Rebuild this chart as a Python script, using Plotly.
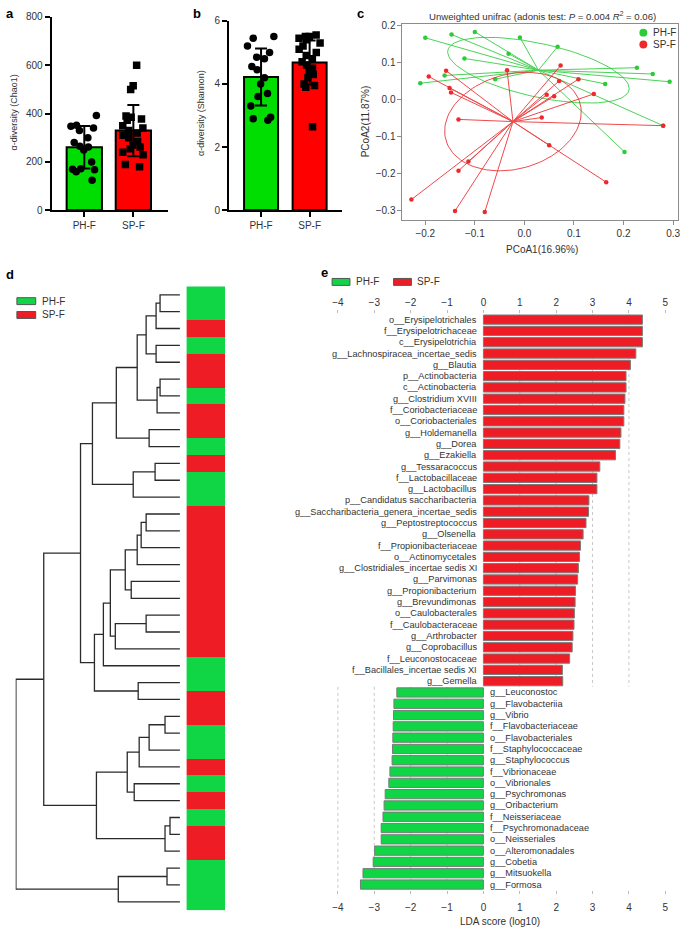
import numpy as np
import plotly.graph_objects as go

W, H = 685, 933
def px(v): return v / W
def py(v): return 1 - v / H

FONT = "Liberation Sans, Arial, Helvetica, sans-serif"
TXT = "#333333"
BAR_GREEN = "#00DD00"
BAR_RED = "#FF0000"
PC_GREEN = "#2DCB3A"
PC_RED = "#EC2A2E"
HM_GREEN = "#10D646"
HM_RED = "#EE1D25"

# ---------------- data ----------------
groups = ["PH-F", "SP-F"]

chao1_mean = [261, 330]
chao1_sd = [88, 106]
chao1_ph = [392, 352, 348, 340, 330, 300, 280, 265, 262, 250, 200, 172, 170, 168, 160, 124]
chao1_sp = [600, 515, 500, 390, 385, 378, 372, 350, 340, 330, 320, 310, 300, 285, 270,
            262, 255, 240, 230, 190, 180]

shannon_mean = [4.22, 4.68]
shannon_sd = [0.9, 0.7]
shannon_ph = [5.5, 5.45, 5.2, 5.0, 4.85, 4.8, 4.55, 4.45, 4.2, 4.0, 3.7, 3.6, 3.3, 2.95, 2.9, 2.85]
shannon_sp = [5.55, 5.5, 5.5, 5.45, 5.4, 5.3, 5.2, 5.1, 5.0, 4.9, 4.8, 4.7, 4.6, 4.5, 4.4,
              4.3, 4.2, 4.0, 3.95, 3.9, 2.65]

pcoa_ph_x = [-0.200, -0.147, -0.100, -0.009, 0.067, -0.032, -0.121, 0.227, 0.259, 0.293,
             0.163, -0.161, -0.210, -0.059, 0.280, 0.202]
pcoa_ph_y = [0.167, 0.176, 0.183, 0.168, 0.143, 0.124, 0.111, 0.086, 0.069, 0.048,
             0.042, 0.065, 0.044, 0.055, -0.071, -0.142]
pcoa_sp_x = [-0.228, -0.140, -0.080, -0.133, -0.113, -0.133, -0.193, -0.158, -0.151, -0.148,
             -0.035, 0.073, 0.070, 0.109, 0.140, 0.045, 0.060, 0.035, 0.280, 0.050, 0.165]
pcoa_sp_y = [-0.271, -0.302, -0.305, -0.193, -0.168, -0.054, 0.062, 0.078, 0.031, 0.019,
             0.079, 0.092, 0.050, 0.055, 0.015, 0.013, 0.009, -0.049, -0.071, -0.124, -0.224]

# dendrogram leaves (top to bottom) and merges: (child_a, child_b, height)
leaf_group = ["PH-F", "PH-F", "SP-F", "PH-F", "SP-F", "SP-F", "PH-F", "SP-F", "SP-F", "PH-F",
              "SP-F", "PH-F", "PH-F", "SP-F", "SP-F", "SP-F", "SP-F", "SP-F", "SP-F", "SP-F",
              "SP-F", "SP-F", "PH-F", "PH-F", "SP-F", "SP-F", "PH-F", "PH-F", "SP-F", "PH-F",
              "SP-F", "PH-F", "SP-F", "SP-F", "PH-F", "PH-F", "PH-F"]
merges = [
    (0, 1, 20), (37, 2, 24), (3, 4, 24), (38, 39, 34), (5, 6, 20), (41, 7, 23),
    (40, 42, 43), (8, 9, 31), (43, 44, 64), (10, 11, 25), (46, 12, 47), (45, 47, 88),
    (13, 14, 34), (49, 15, 39), (50, 16, 43), (17, 18, 49), (51, 52, 55), (19, 20, 34),
    (54, 21, 65), (53, 55, 70), (56, 22, 77), (23, 24, 42), (57, 58, 86), (48, 59, 100),
    (25, 26, 15), (61, 27, 31), (62, 28, 41), (29, 30, 46), (63, 64, 53), (31, 32, 10),
    (66, 33, 15), (65, 67, 84), (60, 68, 137), (34, 35, 13), (70, 36, 62), (69, 71, 165),
]

lda_names = [
    "o__Erysipelotrichales", "f__Erysipelotrichaceae", "c__Erysipelotrichia",
    "g__Lachnospiracea_incertae_sedis", "g__Blautia", "p__Actinobacteria", "c__Actinobacteria",
    "g__Clostridium XVIII", "f__Coriobacteriaceae", "o__Coriobacteriales", "g__Holdemanella",
    "g__Dorea", "g__Ezakiella", "g__Tessaracoccus", "f__Lactobacillaceae", "g__Lactobacillus",
    "p__Candidatus saccharibacteria", "g__Saccharibacteria_genera_incertae_sedis",
    "g__Peptostreptococcus", "g__Olsenella", "f__Propionibacteriaceae", "o__Actinomycetales",
    "g__Clostridiales_incertae sedis XI", "g__Parvimonas", "g__Propionibacterium",
    "g__Brevundimonas", "o__Caulobacterales", "f__Caulobacteraceae", "g__Arthrobacter",
    "g__Coprobacillus", "f__Leuconostocaceae", "f__Bacillales_incertae sedis XI", "g__Gemella",
    "g__Leuconostoc", "g__Flavobacteriia", "g__Vibrio", "f__Flavobacteriaceae",
    "o__Flavobacteriales", "f__Staphylococcaceae", "g__Staphylococcus", "f__Vibrionaceae",
    "o__Vibrionales", "g__Psychromonas", "g__Oribacterium", "f__Neisseriaceae",
    "f__Psychromonadaceae", "o__Neisseriales", "o__Alteromonadales", "g__Cobetia",
    "g__Mitsuokella", "g__Formosa",
]
lda_scores = [
    4.37, 4.37, 4.37, 4.19, 4.04, 3.92, 3.92, 3.89, 3.86, 3.86, 3.78, 3.75, 3.63, 3.20, 3.12,
    3.12, 2.90, 2.89, 2.82, 2.74, 2.67, 2.64, 2.61, 2.59, 2.53, 2.52, 2.50, 2.49, 2.46, 2.44,
    2.37, 2.17, 2.18,
    -2.38, -2.46, -2.47, -2.48, -2.49, -2.50, -2.51, -2.57, -2.60, -2.70, -2.73, -2.76, -2.81,
    -2.81, -2.99, -3.03, -3.31, -3.38,
]
lda_ticks = [-4, -3, -2, -1, 0, 1, 2, 3, 4, 5]

fig = go.Figure()

# ---------------- panels a & b ----------------
def alpha_panel(xa, ya, means, sds, ph, sp, bw):
    fig.add_trace(go.Bar(
        x=groups, y=means, width=bw, xaxis=xa, yaxis=ya, showlegend=False,
        marker=dict(color=[BAR_GREEN, BAR_RED], line=dict(color="black", width=2)),
        error_y=dict(type="data", array=sds, visible=True, color="black", thickness=2, width=6),
    ))
    for g, vals, sym in [("PH-F", ph, "circle"), ("SP-F", sp, "square")]:
        fig.add_trace(go.Box(
            x=[g] * len(vals), y=vals, boxpoints="all", jitter=1, pointpos=0, width=bw * 0.85,
            fillcolor="rgba(0,0,0,0)", line=dict(color="rgba(0,0,0,0)", width=0),
            marker=dict(color="black", size=7.5, symbol=sym), xaxis=xa, yaxis=ya,
            showlegend=False, hoverinfo="skip",
        ))

alpha_panel("x", "y", chao1_mean, chao1_sd, chao1_ph, chao1_sp, 0.72)
alpha_panel("x2", "y2", shannon_mean, shannon_sd, shannon_ph, shannon_sp, 0.70)

# ---------------- panel c ----------------
def ellipse(xs, ys, n=120):
    x = np.array(xs); y = np.array(ys)
    vals, vecs = np.linalg.eigh(np.cov(x, y))
    t = np.linspace(0, 2 * np.pi, n)
    pts = vecs @ (np.sqrt(vals)[:, None] * np.stack([np.cos(t), np.sin(t)]))
    return x.mean() + pts[0], y.mean() + pts[1]

for xs, ys, col in [(pcoa_ph_x, pcoa_ph_y, PC_GREEN), (pcoa_sp_x, pcoa_sp_y, PC_RED)]:
    cx, cy = float(np.mean(xs)), float(np.mean(ys))
    lx, ly = [], []
    for a, b in zip(xs, ys):
        lx += [cx, a, None]; ly += [cy, b, None]
    fig.add_trace(go.Scatter(x=lx, y=ly, mode="lines", line=dict(color=col, width=1),
                             opacity=0.85, xaxis="x3", yaxis="y3", showlegend=False, hoverinfo="skip"))
    ex, ey = ellipse(xs, ys)
    fig.add_trace(go.Scatter(x=ex, y=ey, mode="lines", line=dict(color=col, width=1),
                             opacity=0.85, xaxis="x3", yaxis="y3", showlegend=False, hoverinfo="skip"))
    fig.add_trace(go.Scatter(x=xs, y=ys, mode="markers", marker=dict(color=col, size=4.5),
                             xaxis="x3", yaxis="y3", showlegend=False))

# ---------------- panel d ----------------
n_leaf = len(leaf_group)
node_y = {i: float(i) for i in range(n_leaf)}
node_h = {i: 0.0 for i in range(n_leaf)}
dx, dy = [], []
for k, (a, b, h) in enumerate(merges):
    nid = n_leaf + k
    node_y[nid] = (node_y[a] + node_y[b]) / 2
    node_h[nid] = h
    dx += [node_h[a], h, h, node_h[b], None]
    dy += [node_y[a], node_y[a], node_y[b], node_y[b], None]
fig.add_trace(go.Scatter(x=dx, y=dy, mode="lines", line=dict(color="#2a2a2a", width=1.3),
                         xaxis="x4", yaxis="y4", showlegend=False, hoverinfo="skip"))
fig.add_trace(go.Heatmap(
    z=[[1 if g == "SP-F" else 0] for g in leaf_group], x=[0], y=list(range(n_leaf)),
    colorscale=[[0, HM_GREEN], [1, HM_RED]], zmin=0, zmax=1, showscale=False,
    xaxis="x5", yaxis="y4", hoverinfo="skip",
))

# ---------------- panel e ----------------
lda_idx = list(range(len(lda_names)))
fig.add_trace(go.Bar(
    x=lda_scores, y=lda_idx, orientation="h", width=0.82, xaxis="x6", yaxis="y6",
    marker=dict(color=[HM_RED if v > 0 else HM_GREEN for v in lda_scores],
                line=dict(color="#7a7a7a", width=1)),
    showlegend=False,
))
fig.add_trace(go.Scatter(x=[0], y=[0], mode="markers", marker=dict(opacity=0),
                         xaxis="x7", yaxis="y6", showlegend=False, hoverinfo="skip"))

shapes = []
n_pos = sum(1 for v in lda_scores if v > 0)
for t in lda_ticks:
    if 0 < t < 5:
        shapes.append(dict(type="line", xref="x6", yref="y6", x0=t, x1=t, y0=-0.5, y1=n_pos - 0.5,
                           line=dict(color="#c8c8c8", width=1, dash="dot"), layer="below"))
    elif t < 0:
        shapes.append(dict(type="line", xref="x6", yref="y6", x0=t, x1=t, y0=n_pos - 0.5,
                           y1=len(lda_scores) - 0.5,
                           line=dict(color="#c8c8c8", width=1, dash="dot"), layer="below"))

annotations = []
def ann(text, x, y, size=10, color=TXT, xanchor="center", yanchor="middle", angle=0, **kw):
    annotations.append(dict(text=text, x=x, y=y, xref=kw.pop("xref", "paper"), yref=kw.pop("yref", "paper"),
                            showarrow=False, font=dict(size=size, color=color, family=FONT),
                            xanchor=xanchor, yanchor=yanchor, textangle=angle, **kw))

for i, (nm, v) in enumerate(zip(lda_names, lda_scores)):
    if v > 0:
        ann(nm, 0, i, size=9.2, xref="x6", yref="y6", xanchor="right", xshift=-4)
    else:
        ann(nm, 0, i, size=9.2, xref="x6", yref="y6", xanchor="left", xshift=5)

# panel letters
for L, x, y in [("a", 0, 8), ("b", 189, 8), ("c", 354, 8), ("d", 0, 272), ("e", 318, 270)]:
    ann("<b>%s</b>" % L, px(x), py(y), size=13, color="black", xanchor="left")

# axis titles
ann("α-diversity (Chao1)", px(10), py(108), size=9, angle=-90)
ann("α-diversity (Shannon)", px(198), py(108), size=9, angle=-90)
ann("PCoA2(11.87%)", px(365), py(117), size=10, angle=-90)
ann("PCoA1(16.96%)", px(543), py(247), size=10)
ann("Unweighted unifrac (adonis test: <i>P</i> = 0.004 <i>R</i><sup>2</sup> = 0.06)",
    px(543), py(10), size=9.6)
ann("LDA score (log10)", px(500), py(927), size=10)

# panel c legend
for yy, col, lab in [(27, PC_GREEN, "PH-F"), (39, PC_RED, "SP-F")]:
    shapes.append(dict(type="circle", xref="paper", yref="paper", x0=px(641), x1=px(649),
                       y0=py(yy + 4), y1=py(yy - 4), fillcolor=col, line=dict(width=0)))
    ann(lab, px(653), py(yy), size=10, xanchor="left")

# panel d legend
for yy, col, lab in [(299, HM_GREEN, "PH-F"), (313, HM_RED, "SP-F")]:
    shapes.append(dict(type="rect", xref="paper", yref="paper", x0=px(13), x1=px(32),
                       y0=py(yy + 3.5), y1=py(yy - 3.5), fillcolor=col,
                       line=dict(color="#555", width=1)))
    ann(lab, px(36), py(yy), size=10, xanchor="left")

# panel e legend
for x0, col, lab in [(331, HM_GREEN, "PH-F"), (393, HM_RED, "SP-F")]:
    shapes.append(dict(type="rect", xref="paper", yref="paper", x0=px(x0), x1=px(x0 + 18),
                       y0=py(283), y1=py(276), fillcolor=col, line=dict(color="#555", width=1)))
    ann(lab, px(x0 + 22), py(279.5), size=10, xanchor="left")

axis_ab = dict(showline=True, linewidth=2, linecolor="black", ticks="outside", ticklen=5,
               tickwidth=2, tickcolor="black", showgrid=False, zeroline=False,
               tickfont=dict(size=10, color=TXT))
axis_c = dict(showline=True, mirror=True, linewidth=1, linecolor="#8c8c8c", ticks="outside",
              ticklen=4, tickcolor="#8c8c8c", showgrid=False, zeroline=False,
              tickfont=dict(size=10, color=TXT), tickformat=".1f")
hidden = dict(visible=False, showgrid=False, zeroline=False)
axis_e = dict(range=[-4.05, 5.05], tickvals=lda_ticks, ticks="outside", ticklen=3,
              tickcolor="#bbbbbb", showline=False, showgrid=False, zeroline=False,
              tickfont=dict(size=10, color=TXT))

fig.update_layout(
    width=W, height=H, margin=dict(l=0, r=0, t=0, b=0),
    paper_bgcolor="white", plot_bgcolor="white",
    font=dict(family=FONT, size=10, color=TXT), showlegend=False,
    xaxis=dict(domain=[px(48), px(165)], range=[-0.667, 1.697], anchor="y", type="category", **axis_ab),
    yaxis=dict(domain=[py(207), py(11)], range=[0, 800], anchor="x", tickvals=[0, 200, 400, 600, 800], **axis_ab),
    xaxis2=dict(domain=[px(227), px(341)], range=[-0.66, 1.667], anchor="y2", type="category", **axis_ab),
    yaxis2=dict(domain=[py(207), py(15)], range=[0, 6], anchor="x2", tickvals=[0, 2, 4, 6], **axis_ab),
    xaxis3=dict(domain=[px(402), px(680)], range=[-0.246, 0.31], anchor="y3",
                tickvals=[-0.2, -0.1, 0.0, 0.1, 0.2, 0.3], **axis_c),
    yaxis3=dict(domain=[py(217), py(18)], range=[-0.327, 0.205], anchor="x3",
                tickvals=[-0.3, -0.2, -0.1, 0.0, 0.1, 0.2], **axis_c),
    xaxis4=dict(domain=[px(11.7), px(177.5)], range=[165.3, 0], anchor="y4", **hidden),
    yaxis4=dict(domain=[py(916), py(284)], range=[n_leaf - 0.5, -0.5], anchor="x4", **hidden),
    xaxis5=dict(domain=[px(184), px(223)], range=[-0.5, 0.5], anchor="y4", **hidden),
    yaxis6=dict(domain=[py(895.7), py(312)], range=[len(lda_names) - 0.5, -0.5], anchor="x6", **hidden),
    xaxis6=dict(domain=[px(335), px(669)], anchor="y6", side="bottom", ticklabelstandoff=5, **axis_e),
    xaxis7=dict(domain=[px(335), px(669)], anchor="y6", side="top", overlaying="x6", **axis_e),
    shapes=shapes, annotations=annotations,
)

fig.write_html(
    "out.html",
    config={"displayModeBar": False, "staticPlot": True},
    post_script="document.body.style.margin='0';document.body.style.padding='0';"
                "document.documentElement.style.overflow='hidden';",
)
